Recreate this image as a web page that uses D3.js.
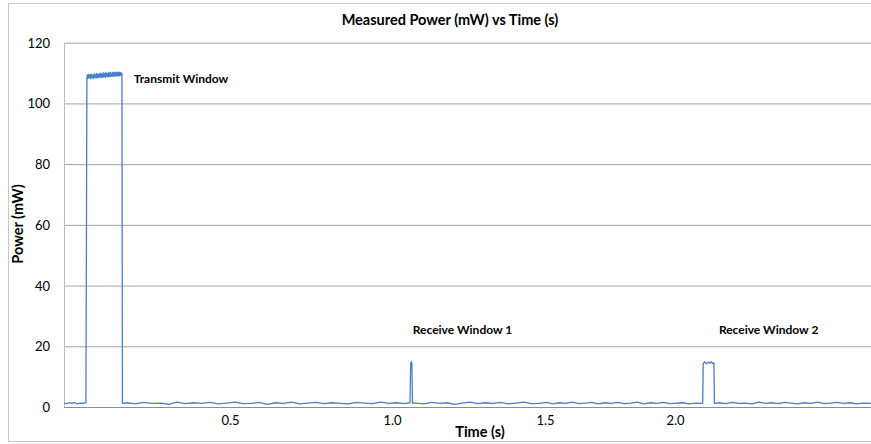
<!DOCTYPE html>
<html>
<head>
<meta charset="utf-8">
<script src="https://cdn.jsdelivr.net/npm/d3@7"></script>
<style>
  body { margin: 0; background: #fff; }
  text { font-family: Lato, "Open Sans", sans-serif; fill: #000; }
</style>
</head>
<body>
<div class="power-plot"></div>
<script>
// measured samples, [time s, power mW]
const idleStart = [[0.000,1.3],[0.008,1.1],[0.016,1.4],[0.024,1.2],[0.032,1.5],[0.040,1.0],[0.048,1.3],[0.056,1.2],[0.066,1.4]]
const transmit = [[0.069,108.6],[0.0705,109.4],[0.0725,108.2],[0.0745,109.6],[0.0765,108.4],[0.0785,109.5],[0.0805,108.1],
  [0.0825,109.7],[0.0845,108.5],[0.0865,109.3],[0.0885,108.2],[0.0905,109.8],[0.0925,108.6],[0.0945,109.5],
  [0.0965,108.3],[0.0985,109.9],[0.1005,108.5],[0.1025,109.6],[0.1045,108.4],[0.1065,109.8],[0.1085,108.7],
  [0.1105,110.0],[0.1125,108.5],[0.1145,109.7],[0.1165,108.6],[0.1185,110.1],[0.1205,108.8],[0.1225,109.9],
  [0.1245,108.6],[0.1265,110.2],[0.1285,108.9],[0.1305,109.8],[0.1325,108.7],[0.1345,110.1],[0.1365,108.9],
  [0.1385,110.3],[0.1405,108.8],[0.1425,110.0],[0.1445,109.0],[0.1465,110.2],[0.1485,108.9],[0.1505,110.3],
  [0.1525,109.1],[0.1545,110.1],[0.1565,108.9],[0.1585,110.4],[0.1605,109.2],[0.1625,110.2],[0.1645,109.0],
  [0.1665,110.3],[0.1685,109.1],[0.1705,110.2],[0.1725,109.3],[0.1745,110.0]]
const idleA = [[0.176,1.2],[0.190,1.4],[0.215,1.0],[0.240,1.5],[0.265,1.2],[0.290,1.3],[0.315,0.9],[0.340,1.6],[0.365,1.1],
  [0.390,1.4],[0.415,1.2],[0.440,1.5],[0.465,1.0],[0.490,1.3],[0.515,1.6],[0.540,1.1],[0.565,1.2],[0.590,1.5],
  [0.615,0.9],[0.640,1.4],[0.665,1.2],[0.690,1.6],[0.715,1.0],[0.740,1.3],[0.765,1.5],[0.790,1.1],[0.815,1.4],
  [0.840,1.2],[0.865,1.0],[0.890,1.5],[0.915,1.3],[0.940,1.1],[0.965,1.6],[0.990,1.2],[1.015,1.4],[1.040,1.1]]
const receive1 = [[1.059,1.4],[1.061,14.2],[1.063,14.9],[1.065,14.5],[1.067,1.3]]
const idleB = [[1.080,1.3],[1.105,1.0],[1.130,1.5],[1.155,1.2],[1.180,1.4],[1.205,0.9],[1.230,1.3],[1.255,1.6],[1.280,1.1],
  [1.305,1.4],[1.330,1.2],[1.355,1.5],[1.380,1.0],[1.405,1.3],[1.430,1.6],[1.455,1.1],[1.480,1.2],[1.505,1.5],
  [1.530,1.0],[1.555,1.4],[1.580,1.2],[1.605,1.6],[1.630,1.1],[1.655,1.3],[1.680,1.5],[1.705,1.0],[1.730,1.4],
  [1.755,1.2],[1.780,1.5],[1.805,1.1],[1.830,1.3],[1.855,1.6],[1.880,1.0],[1.905,1.4],[1.930,1.2],[1.955,1.5],
  [1.980,1.1],[2.005,1.3],[2.030,1.4],[2.055,1.0],[2.080,1.3],[2.106,1.2]]
const receive2 = [[2.108,14.3],[2.114,14.9],[2.120,14.2],[2.126,14.8],[2.132,14.4],[2.138,14.9],[2.144,14.3],[2.149,14.6],[2.151,1.2]]
const idleC = [[2.170,1.4],[2.195,1.1],[2.220,1.5],[2.245,1.2],[2.270,1.3],[2.295,1.0],[2.320,1.6],[2.345,1.2],[2.370,1.4],
  [2.395,1.1],[2.420,1.5],[2.445,1.3],[2.470,1.0],[2.495,1.4],[2.520,1.2],[2.545,1.6],[2.570,1.1],[2.595,1.3],
  [2.620,1.5],[2.645,1.2],[2.670,1.4],[2.695,1.0],[2.720,1.3],[2.750,1.2]]

const xTicks = [0.5, 1.0, 1.5, 2.0]
const yTicks = [0, 20, 40, 60, 80, 100, 120]
const notes = [
  {label: 'Transmit Window', t: 0.21, p: 106.7},
  {label: 'Receive Window 1', t: 1.068, p: 24.2},
  {label: 'Receive Window 2', t: 2.168, p: 24.2}
]

const data = [].concat(idleStart, transmit, idleA, receive1, idleB, receive2, idleC)

const margin = ({top: 42.7, right: 0, bottom: 37, left: 64})
const W = 871, H = 444
const width = W - margin.left - margin.right,
height = H - margin.top - margin.bottom

const svg = d3.select('.power-plot').append('svg')
    .attr('width', W)
    .attr('height', H)

// chart area border
svg.append('rect')
    .attr('x', 8.5).attr('y', 3.5)
    .attr('width', W + 10).attr('height', 438)
    .attr('fill', 'none')
    .attr('stroke', '#c8c8c8')

const g = svg.append('g')
    .attr('transform', `translate(${margin.left},${margin.top})`)

// the category-style time axis is spaced unevenly in the original
const x = d3.scaleLinear()
    .domain([0, 0.5, 1.0, 1.5, 2.0, 2.75])
    .range([0, width * 0.2057, width * 0.4064, width * 0.5960, width * 0.7571, width])

const y = d3.scaleLinear()
    .domain([0, 120])
    .range([height, 0])

// gridlines
g.append('g')
    .call(d3.axisLeft(y).tickValues(yTicks).tickSize(-width).tickFormat(''))
    .call(a => a.select('.domain').remove())
    .selectAll('line')
    .attr('stroke', '#a3a3a3')

g.append('line')
    .attr('x1', 0.5).attr('x2', 0.5)
    .attr('y1', 0).attr('y2', height)
    .attr('stroke', '#bdbdbd')

// y tick labels
g.selectAll('.ylab')
    .data(yTicks)
    .enter()
    .append('text')
    .attr('class', 'ylab')
    .attr('x', -14)
    .attr('y', d => y(d) + 5)
    .attr('text-anchor', 'end')
    .attr('font-size', 13)
    .text(d => d)

// x axis
const xAxis = g.append('g')
    .attr('transform', `translate(0,${height})`)
    .call(d3.axisBottom(x).tickValues(xTicks).tickSize(0).tickPadding(9).tickFormat(d3.format('.1f')))
xAxis.select('.domain').attr('stroke', '#8c8c8c').attr('stroke-width', 1.2)
xAxis.selectAll('text')
    .attr('font-size', 13)
    .attr('font-family', 'Lato, sans-serif')
    .attr('fill', '#000')

// power trace
const line = d3.line()
    .x(d => x(d[0]))
    .y(d => y(d[1]))

g.append('path')
    .datum(data)
    .attr('d', line)
    .attr('fill', 'none')
    .attr('stroke', '#4a7fc9')
    .attr('stroke-width', 1.3)
    .attr('stroke-linejoin', 'round')

// window labels
g.selectAll('.note')
    .data(notes)
    .enter()
    .append('text')
    .attr('class', 'note')
    .attr('x', d => x(d.t))
    .attr('y', d => y(d.p))
    .attr('font-size', 12)
    .attr('font-weight', 'bold')
    .text(d => d.label)

// titles
svg.append('text')
    .attr('x', 450)
    .attr('y', 25)
    .attr('text-anchor', 'middle')
    .attr('font-size', 14.5)
    .attr('font-weight', 'bold')
    .text('Measured Power (mW) vs Time (s)')

svg.append('text')
    .attr('x', 480)
    .attr('y', 437)
    .attr('text-anchor', 'middle')
    .attr('font-size', 14.5)
    .attr('font-weight', 'bold')
    .text('Time (s)')

svg.append('text')
    .attr('transform', 'translate(23,224) rotate(-90)')
    .attr('text-anchor', 'middle')
    .attr('font-size', 14.5)
    .attr('font-weight', 'bold')
    .text('Power (mW)')
</script>
</body>
</html>
